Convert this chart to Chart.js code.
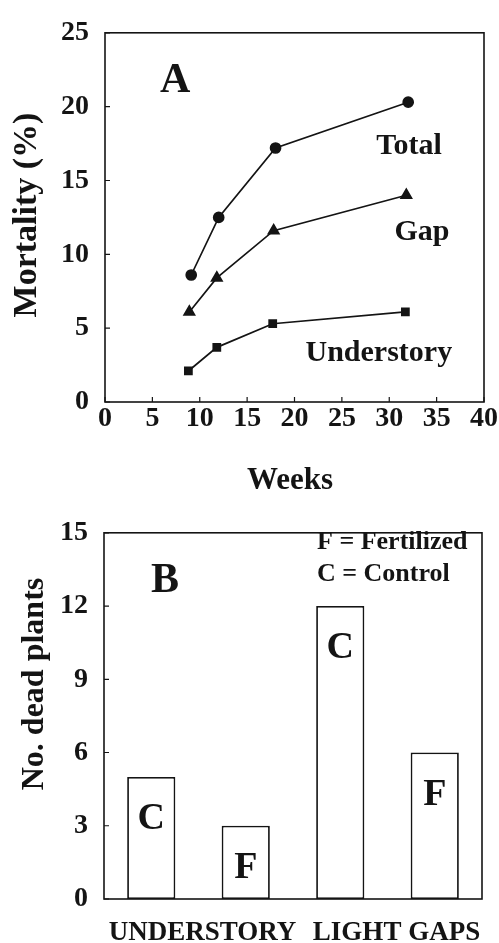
<!DOCTYPE html>
<html>
<head>
<meta charset="utf-8">
<script src="https://cdn.jsdelivr.net/npm/chart.js@4.4.0/dist/chart.umd.min.js"></script>
<style>
  html, body { margin: 0; padding: 0; background: #fff; }
  #chartA { position: absolute; left: 0; top: 0; }
  #chartB { position: absolute; left: 0; top: 500px; }
</style>
</head>
<body>
<canvas id="chartA" width="499" height="500"></canvas>
<canvas id="chartB" width="499" height="443"></canvas>
<script>
// panel A: mortality over time
const weeksTotal = [9.1, 12.0, 18.0, 32.0];
const total = [8.6, 12.5, 17.2, 20.3];
const weeksGap = [8.9, 11.8, 17.8, 31.8];
const gap = [6.1, 8.4, 11.6, 14.0];
const weeksUnder = [8.8, 11.8, 17.7, 31.7];
const understory = [2.1, 3.7, 5.3, 6.1];
const xTicksA = [0, 5, 10, 15, 20, 25, 30, 35, 40];
const yTicksA = [0, 5, 10, 15, 20, 25];

// panel B: dead plants per treatment
const treatments = ['C', 'F', 'C', 'F'];
const deadPlants = [5, 3, 12, 6];
const sites = ['UNDERSTORY', 'LIGHT GAPS'];
const yTicksB = [0, 3, 6, 9, 12, 15];

const INK = '#141414';
const SERIF = "'Liberation Serif', 'Times New Roman', serif";
const font = (size) => ({ family: SERIF, size: size, weight: 'bold' });
const cssFont = (size) => `bold ${size}px ${SERIF}`;

function toPoints(xs, ys) {
  return xs.map((x, i) => ({ x: x, y: ys[i] }));
}

// frame around the plot plus short inward tick marks
const frame = {
  id: 'frame',
  afterDraw(chart, args, opts) {
    const { ctx, chartArea: a, scales } = chart;
    ctx.save();
    ctx.strokeStyle = INK;
    ctx.lineWidth = 1.6;
    ctx.strokeRect(a.left, a.top, a.right - a.left, a.bottom - a.top);
    ctx.lineWidth = 1.2;
    ctx.beginPath();
    scales.y.ticks.forEach(t => {
      const py = scales.y.getPixelForValue(t.value);
      ctx.moveTo(a.left, py);
      ctx.lineTo(a.left + 5, py);
    });
    if (opts.xTicks) {
      scales.x.ticks.forEach(t => {
        const px = scales.x.getPixelForValue(t.value);
        ctx.moveTo(px, a.bottom);
        ctx.lineTo(px, a.bottom - 5);
      });
    }
    ctx.stroke();
    ctx.restore();
  }
};

function drawYTitle(ctx, text, size, x, y) {
  ctx.save();
  ctx.translate(x, y);
  ctx.rotate(-Math.PI / 2);
  ctx.font = cssFont(size);
  ctx.textAlign = 'center';
  ctx.textBaseline = 'alphabetic';
  ctx.fillText(text, 0, 0);
  ctx.restore();
}

const labelsA = {
  id: 'labelsA',
  afterDraw(chart) {
    const { ctx, scales: { x, y } } = chart;
    ctx.save();
    ctx.fillStyle = INK;
    ctx.textAlign = 'center';
    ctx.textBaseline = 'alphabetic';
    ctx.font = cssFont(42);
    ctx.fillText('A', x.getPixelForValue(7.4), y.getPixelForValue(21.0));
    ctx.font = cssFont(30);
    ctx.fillText('Total', x.getPixelForValue(32.1), y.getPixelForValue(16.8));
    ctx.fillText('Gap', x.getPixelForValue(33.45), y.getPixelForValue(10.96));
    ctx.fillText('Understory', x.getPixelForValue(28.9), y.getPixelForValue(2.76));
    ctx.font = cssFont(31);
    ctx.fillText('Weeks', 290, 489);
    drawYTitle(ctx, 'Mortality (%)', 34, 36, 215);
    ctx.restore();
  }
};

const lineStyle = { borderColor: INK, backgroundColor: INK, borderWidth: 1.7, pointBorderColor: INK, pointBackgroundColor: INK };

new Chart(document.getElementById('chartA'), {
  type: 'line',
  data: {
    datasets: [
      { label: 'Total', data: toPoints(weeksTotal, total), pointStyle: 'circle', pointRadius: 5, ...lineStyle },
      { label: 'Gap', data: toPoints(weeksGap, gap), pointStyle: 'triangle', pointRadius: 6, ...lineStyle },
      { label: 'Understory', data: toPoints(weeksUnder, understory), pointStyle: 'rect', pointRadius: 5, ...lineStyle }
    ]
  },
  options: {
    responsive: false,
    animation: false,
    layout: { padding: { top: 21, right: 15, left: 0, bottom: 0 } },
    plugins: { legend: { display: false }, tooltip: { enabled: false }, frame: { xTicks: true } },
    scales: {
      x: {
        type: 'linear', min: 0, max: 40,
        afterBuildTicks: s => { s.ticks = xTicksA.map(v => ({ value: v })); },
        ticks: { font: font(28), color: INK, padding: 0, maxRotation: 0 },
        grid: { display: false, drawTicks: false },
        border: { display: false },
        afterFit: s => { s.height = 98; }
      },
      y: {
        min: 0, max: 25,
        afterBuildTicks: s => { s.ticks = yTicksA.map(v => ({ value: v })); },
        ticks: { font: font(28), color: INK, padding: 16 },
        grid: { display: false, drawTicks: false },
        border: { display: false },
        afterFit: s => { s.width = 105; }
      }
    }
  },
  plugins: [frame, labelsA]
});

const labelsB = {
  id: 'labelsB',
  afterDraw(chart) {
    const { ctx, chartArea: a } = chart;
    const bars = chart.getDatasetMeta(0).data;
    ctx.save();
    ctx.fillStyle = INK;
    ctx.textBaseline = 'alphabetic';
    ctx.textAlign = 'center';
    ctx.font = cssFont(38);
    bars.forEach((bar, i) => {
      ctx.fillText(treatments[i], bar.x, bar.y + 52);
    });
    ctx.font = cssFont(42);
    ctx.fillText('B', a.left + 61, 92);
    ctx.font = cssFont(27);
    const shift = [4, 9];
    sites.forEach((s, i) => {
      const mid = (bars[2 * i].x + bars[2 * i + 1].x) / 2;
      ctx.fillText(s, mid + shift[i], 440);
    });
    ctx.textAlign = 'left';
    ctx.font = cssFont(26);
    ctx.fillText('F = Fertilized', 317, 49);
    ctx.fillText('C = Control', 317, 81);
    drawYTitle(ctx, 'No. dead plants', 32, 43, 184);
    ctx.restore();
  }
};

new Chart(document.getElementById('chartB'), {
  type: 'bar',
  data: {
    labels: treatments,
    datasets: [{
      data: deadPlants,
      backgroundColor: '#fff',
      borderColor: INK,
      borderWidth: 1.8,
      borderSkipped: false,
      barPercentage: 0.51,
      categoryPercentage: 1.0
    }]
  },
  options: {
    responsive: false,
    animation: false,
    layout: { padding: { top: 17, right: 17, left: 0, bottom: 0 } },
    plugins: { legend: { display: false }, tooltip: { enabled: false }, frame: { xTicks: false } },
    scales: {
      x: {
        ticks: { display: false },
        grid: { display: false, drawTicks: false },
        border: { display: false },
        afterFit: s => { s.height = 44; }
      },
      y: {
        min: 0, max: 15,
        afterBuildTicks: s => { s.ticks = yTicksB.map(v => ({ value: v })); },
        ticks: { font: font(28), color: INK, padding: 16 },
        grid: { display: false, drawTicks: false },
        border: { display: false },
        afterFit: s => { s.width = 104; }
      }
    }
  },
  plugins: [frame, labelsB]
});
</script>
</body>
</html>
